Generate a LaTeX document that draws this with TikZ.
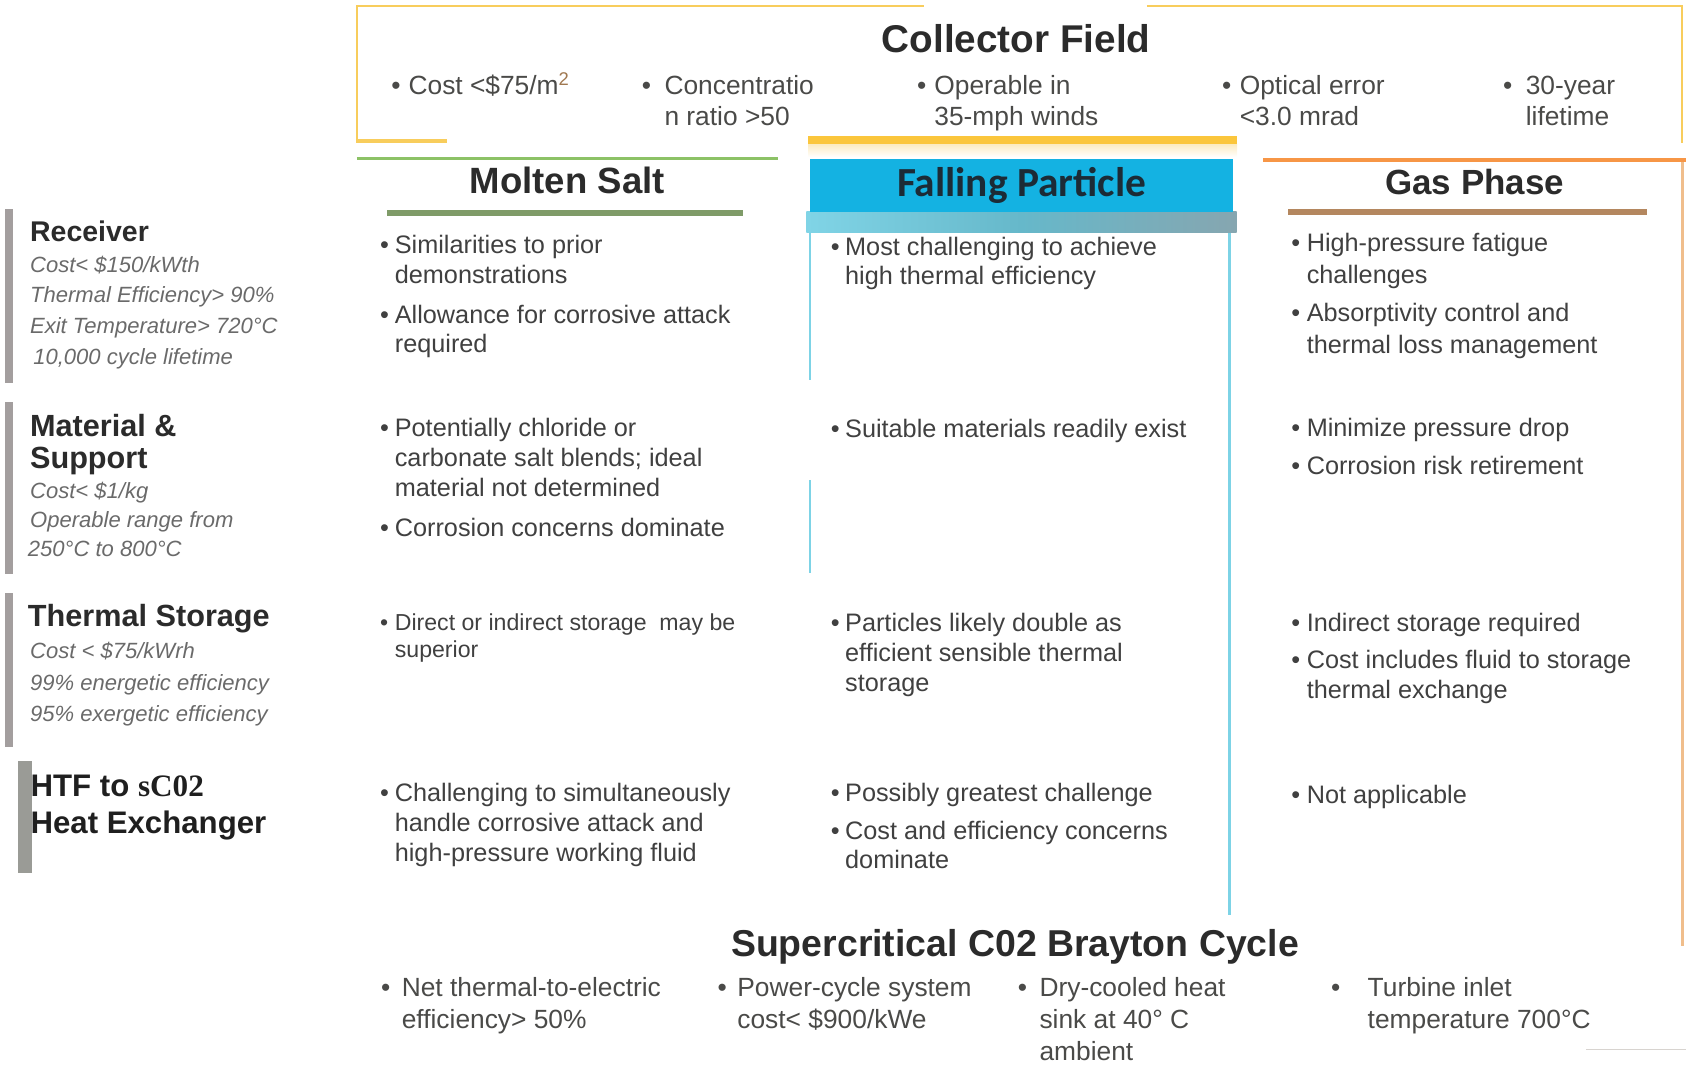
\documentclass[tikz,border=0pt]{standalone}
\usepackage{fontspec}
\setmainfont{Liberation Sans}
\newfontfamily\fpfont{Carlito}
\newfontfamily\seriffont{Liberation Serif}
\definecolor{frameY}{HTML}{F8CD5C}
\definecolor{barY}{HTML}{FBC63C}
\definecolor{glowY}{HTML}{FCEBC0}
\definecolor{greenL}{HTML}{8CC266}
\definecolor{greenD}{HTML}{7F9B68}
\definecolor{orangeL}{HTML}{F79646}
\definecolor{tanL}{HTML}{F0BE8C}
\definecolor{brownB}{HTML}{B4875F}
\definecolor{fpblue}{HTML}{14B2E2}
\definecolor{fpline}{HTML}{7DD3E6}
\definecolor{fptext}{HTML}{1C2B36}
\definecolor{bandL}{HTML}{80D4E6}
\definecolor{bandM}{HTML}{66B8CA}
\definecolor{bandR}{HTML}{86A6B0}
\definecolor{bodytxt}{HTML}{404040}
\definecolor{toptxt}{HTML}{4A4A48}
\definecolor{italtxt}{HTML}{6A6A6A}
\definecolor{headtxt}{HTML}{2B2B2B}
\definecolor{barG}{HTML}{A39E9E}
\definecolor{barG2}{HTML}{9A9B96}
\definecolor{supc}{HTML}{A07850}
\definecolor{thinG}{HTML}{D8D4D0}
\newcommand\mlines[6]{%
  \foreach \thisline [count=\k] in {#6}{%
    \node[#2] (#1-\k) at (#3,{#4+(\k-1)*#5}) {\thisline};}}
\newcommand\bitem[7]{%
  \node[#2] (#1-b) at (#3,#5) {•};
  \mlines{#1}{#2}{#4}{#5}{#6}{#7}}
\begin{document}
\begin{tikzpicture}[x=1pt,y=-1pt,
  txtbase/.style={inner sep=0pt,outer sep=0pt,anchor=base west},
  body/.style={txtbase,font=\fontsize{23.5}{28}\selectfont,text=bodytxt},
  bodysm/.style={txtbase,font=\fontsize{21.5}{26}\selectfont,text=bodytxt},
  topt/.style={txtbase,font=\fontsize{24.5}{29}\selectfont,text=toptxt},
  ital/.style={txtbase,font=\fontsize{20.5}{24}\selectfont\itshape,text=italtxt},
  rowhd/.style={txtbase,font=\fontsize{28.5}{32}\selectfont\bfseries,text=headtxt},
  coltitle/.style={inner sep=0pt,anchor=base,font=\fontsize{34}{38}\selectfont\bfseries,text=headtxt},
  bigtitle/.style={inner sep=0pt,anchor=base,font=\fontsize{35.5}{40}\selectfont\bfseries,text=headtxt},
  frame/.style={draw=frameY,line width=2.2pt}
]
\useasboundingbox (0,0) rectangle (1568,994);

% ---------- Collector field frame ----------
\draw[frame] (859,5.6) -- (332,5.6) -- (332,131);
\draw[frameY,line width=3.7pt] (331,131) -- (416,131);
\draw[frame] (1066.5,5.6) -- (1564.5,5.6) -- (1564.5,133);
\shade[top color=glowY,bottom color=white] (751.5,134) rectangle (1150.5,146);
\fill[barY] (751.5,126.5) rectangle (1150.5,134);

\node[bigtitle,font=\fontsize{36}{40}\selectfont\bfseries] (cf) at (945,49) {Collector Field};
\bitem{cfa}{topt}{364}{380}{88.3}{28}{{Cost <\$75/m\textsuperscript{\color{supc}2}}}
\bitem{cfb}{topt}{597}{618}{88.3}{28}{Concentratio,n ratio >50}
\bitem{cfc}{topt}{853}{869}{88.3}{28}{Operable in,35-mph winds}
\bitem{cfd}{topt}{1136.5}{1153}{88.3}{28}{Optical error,<3.0 mrad}
\bitem{cfe}{topt}{1398}{1419}{88.3}{28}{30-year,lifetime}

% ---------- column headers ----------
\draw[greenL,line width=2.8pt] (332,147.8) -- (723.5,147.8);
\fill[greenD] (360,195.3) rectangle (691,200.9);
\node[coltitle] (ms) at (527.5,179.8) {Molten Salt};

\shade[left color=bandL,right color=bandR,middle color=bandM] (750,196.8) rectangle (1150,216.4);
\fill[fpblue] (753.4,148.2) rectangle (1147,196.8);
\node[inner sep=0pt,anchor=base,font=\fpfont\fontsize{38.5}{42}\selectfont\bfseries,text=fptext] (fp) at (950,182.9) {Falling Particle};
\draw[fpline,line width=1.5pt] (753.5,216.4) -- (753.5,353.4);
\draw[fpline,line width=1.5pt] (753.5,446.4) -- (753.5,533);
\draw[fpline,line width=2.5pt] (1143.3,216.4) -- (1143.3,851);

\draw[orangeL,line width=3.5pt] (1175,149) -- (1568,149);
\draw[tanL,line width=2.5pt] (1564.5,150.5) -- (1564.5,880);
\fill[brownB] (1198,194.5) rectangle (1532,200);
\node[coltitle,font=\fontsize{32.5}{38}\selectfont\bfseries] (gp) at (1371.5,181.3) {Gas Phase};

% ---------- row headers ----------
\fill[barG] (4.9,194.7) rectangle (12.2,355.9);
\fill[barG] (4.9,373.6) rectangle (12.2,533.5);
\fill[barG] (4.9,551.8) rectangle (12.2,694.4);
\fill[barG2] (17,708) rectangle (30,812);

\node[rowhd,font=\fontsize{26.5}{30}\selectfont\bfseries] (rc) at (28,224.8) {Receiver};
\mlines{rci}{ital}{28}{253.3}{28.3}{Cost< \$150/kWth,Thermal Efficiency> 90\%,Exit Temperature> 720°C}
\node[ital] (rci-4) at (31,339.4) {10,000 cycle lifetime};

\node[rowhd] (mat1) at (28,405.5) {Material \&};
\node[rowhd] (mat2) at (28,435.5) {Support};
\mlines{mati}{ital}{28}{463.5}{27.1}{Cost< \$1/kg,Operable range from}
\node[ital] (mati-3) at (26,517.7) {250°C to 800°C};

\node[rowhd] (ts) at (26,582.8) {Thermal Storage};
\mlines{tsi}{ital}{28}{612.2}{29.5}{Cost < \$75/kWrh,99\% energetic efficiency,95\% exergetic efficiency}

\node[rowhd,font=\fontsize{29}{32}\selectfont\bfseries,text=black!88] (htf1) at (28.5,740.9) {HTF to {\seriffont sC02}};
\node[rowhd,font=\fontsize{29}{32}\selectfont\bfseries,text=black!88] (htf2) at (28.5,775) {Heat Exchanger};

% ---------- Molten Salt cells ----------
\bitem{m1a}{body}{353.5}{367.2}{235.6}{28}{Similarities to prior,demonstrations}
\bitem{m1b}{body}{353.5}{367.2}{300.7}{27.5}{Allowance for corrosive attack,required}
\bitem{m2a}{body}{353.5}{367.2}{406}{28}{Potentially chloride or,carbonate salt blends; ideal,material not determined}
\bitem{m2b}{body}{353.5}{367.2}{499}{28}{Corrosion concerns dominate}
\bitem{m3a}{bodysm}{353.5}{367.2}{585.9}{25.4}{Direct or indirect storage\ \ may be,superior}
\bitem{m4a}{body}{353.5}{367.2}{745.5}{27.9}{Challenging to simultaneously,handle corrosive attack and,high-pressure working fluid}

% ---------- Falling Particle cells ----------
\bitem{p1a}{body}{772.8}{786}{238}{27}{Most challenging to achieve,high thermal efficiency}
\bitem{p2a}{body}{772.8}{786}{406.7}{28}{Suitable materials readily exist}
\bitem{p3a}{body}{772.8}{786}{587.4}{27.9}{Particles likely double as,efficient sensible thermal,storage}
\bitem{p4a}{body}{772.8}{786}{745.5}{28}{Possibly greatest challenge}
\bitem{p4b}{body}{772.8}{786}{780.6}{27}{Cost and efficiency concerns,dominate}

% ---------- Gas Phase cells ----------
\bitem{g1a}{body}{1201}{1215.3}{234}{29.5}{High-pressure fatigue,challenges}
\bitem{g1b}{body}{1201}{1215.3}{299.2}{29.4}{Absorptivity control and,thermal loss management}
\bitem{g2a}{body}{1201}{1215.3}{406}{28}{Minimize pressure drop}
\bitem{g2b}{body}{1201}{1215.3}{441.7}{28}{Corrosion risk retirement}
\bitem{g3a}{body}{1201}{1215.3}{587.4}{28}{Indirect storage required}
\bitem{g3b}{body}{1201}{1215.3}{621.5}{27.9}{Cost includes fluid to storage,thermal exchange}
\bitem{g4a}{body}{1201}{1215.3}{747.1}{28}{Not applicable}

% ---------- Brayton cycle ----------
\node[bigtitle,font=\fontsize{34.8}{40}\selectfont\bfseries] (sc) at (944,889.7) {Supercritical C02 Brayton Cycle};
\bitem{sca}{topt}{354.5}{373.7}{926.9}{30}{Net thermal-to-electric,efficiency> 50\%}
\bitem{scb}{topt}{667.4}{685.8}{926.9}{30}{Power-cycle system,cost< \$900/kWe}
\bitem{scc}{topt}{946.7}{966.8}{926.9}{29.5}{Dry-cooled heat,sink at 40° C,ambient}
\bitem{scd}{topt}{1238}{1272}{926.9}{30}{Turbine inlet,temperature 700°C}
\draw[thinG,line width=1pt] (1475,975.8) -- (1568,975.8);
\end{tikzpicture}
\end{document}
